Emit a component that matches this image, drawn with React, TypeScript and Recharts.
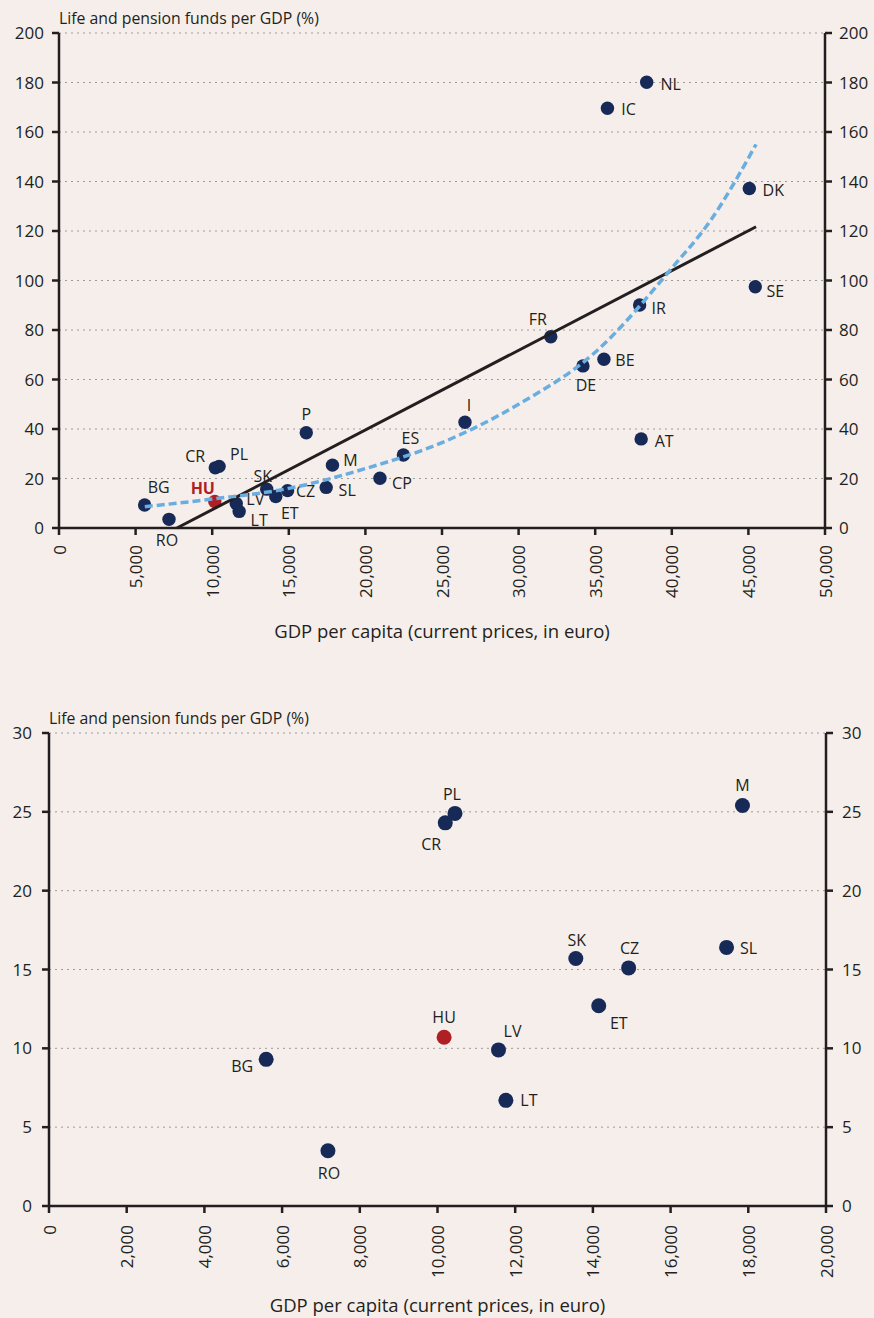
import React from 'react';
import { ScatterChart, Scatter, XAxis, YAxis, CartesianGrid, Label } from 'recharts';

// country codes and values
const countries = ['BG', 'RO', 'HU', 'CR', 'PL', 'LV', 'LT', 'SK', 'ET', 'CZ', 'SL', 'M', 'P', 'CP', 'ES', 'I', 'FR', 'DE', 'BE', 'AT', 'IR', 'IC', 'NL', 'DK', 'SE'];
const gdpPerCapita = [5590, 7180, 10170, 10200, 10450, 11570, 11760, 13560, 14150, 14920, 17440, 17850, 16140, 20950, 22480, 26500, 32100, 34200, 35570, 38000, 37900, 35800, 38360, 45060, 45450];
const fundsPerGdp = [9.3, 3.5, 10.7, 24.3, 24.9, 9.9, 6.7, 15.7, 12.7, 15.1, 16.4, 25.4, 38.5, 20.1, 29.5, 42.7, 77.3, 65.5, 68.2, 36.0, 90.1, 169.6, 180.1, 137.2, 97.5];

// trend lines drawn on the upper chart
const linearTrendGdp = [7700, 45500];
const linearTrendFunds = [0, 121.7];
const expTrendGdp = [5600, 10000, 15000, 20000, 25000, 30000, 35000, 40000, 42500, 45500];
const expTrendFunds = [8.6, 11.7, 16, 24, 34.5, 50, 71, 105, 124, 155];

const topXTicks = [0, 5000, 10000, 15000, 20000, 25000, 30000, 35000, 40000, 45000, 50000];
const topYTicks = [0, 20, 40, 60, 80, 100, 120, 140, 160, 180, 200];
const bottomXTicks = [0, 2000, 4000, 6000, 8000, 10000, 12000, 14000, 16000, 18000, 20000];
const bottomYTicks = [0, 5, 10, 15, 20, 25, 30];

const yTitle = 'Life and pension funds per GDP (%)';
const xTitle = 'GDP per capita (current prices, in euro)';

// label placement (dx, dy from dot centre)
const topLabelOffset: Record<string, [number, number]> = {
  BG: [14, -18], HU: [-12, -14], RO: [-2, 21], CR: [-20, -12], PL: [20, -12],
  SK: [-4, -13], LV: [19, -4], LT: [20, 9], ET: [14, 16], CZ: [18, 0],
  SL: [21, 3], M: [18, -5], P: [0, -19], ES: [7, -17], CP: [22, 5],
  I: [4, -17], AT: [23, 2], FR: [-13, -18], DE: [3, 19], BE: [21, 1],
  IR: [19, 3], SE: [20, 4], DK: [24, 2], IC: [21, 1], NL: [24, 2],
};
const bottomLabelOffset: Record<string, [number, number]> = {
  BG: [-24, 7], HU: [0, -20], LV: [14, -19], LT: [23, 0], RO: [1, 22],
  PL: [-3, -19], CR: [-14, 21], M: [0, -21], SK: [1, -18], CZ: [1, -20],
  SL: [22, 1], ET: [20, 17],
};

const BG_COLOR = '#f5eeeb';
const INK = '#231f20';
const NAVY = '#172a57';
const RED = '#b01f24';
const TREND_BLUE = '#6aaee0';
const GRID = '#9c9c9c';
const FONT = '"Open Sans", sans-serif';

const points = countries.map((name, i) => ({ name, x: gdpPerCapita[i], y: fundsPerGdp[i] }));
const smallPoints = points.filter((p) => p.x <= 20000 && p.y <= 30);
const linearTrend = linearTrendGdp.map((x, i) => ({ x, y: linearTrendFunds[i] }));
const expTrend = expTrendGdp.map((x, i) => ({ x, y: expTrendFunds[i] }));

const fmt = (v: number) => v.toLocaleString('en-US');

const noDot = () => <g />;

const makeDot = (offsets: Record<string, [number, number]>, r: number, redLabel: boolean) => (props: any) => {
  const { cx, cy, payload } = props;
  const isHu = payload.name === 'HU';
  const [dx, dy] = offsets[payload.name] ?? [16, 0];
  return (
    <g>
      <circle cx={cx} cy={cy} r={r} fill={isHu ? RED : NAVY} />
      <text
        x={cx + dx}
        y={cy + dy}
        textAnchor="middle"
        dominantBaseline="central"
        fontSize={16}
        fontFamily={FONT}
        fontWeight={isHu && redLabel ? 700 : 400}
        fill={isHu && redLabel ? RED : INK}
      >
        {payload.name}
      </text>
    </g>
  );
};

const rotatedTick = (gap: number) => (props: any) => {
  const { x, y, payload } = props;
  const ty = y + gap;
  return (
    <text
      x={x}
      y={ty}
      transform={`rotate(-90 ${x} ${ty})`}
      textAnchor="end"
      dominantBaseline="central"
      fontSize={17}
      fontFamily={FONT}
      fill={INK}
    >
      {fmt(payload.value)}
    </text>
  );
};

const axisStroke = { stroke: INK, strokeWidth: 2.5 };
const tickStyle = { fontSize: 17, fill: INK, fontFamily: FONT };

const TopChart = () => (
  <ScatterChart width={874} height={660} margin={{ top: 33, right: 0, bottom: 0, left: 0 }}>
    <CartesianGrid horizontal vertical={false} stroke={GRID} strokeDasharray="2 4" />
    <XAxis
      type="number"
      dataKey="x"
      domain={[0, 50000]}
      ticks={topXTicks}
      interval={0}
      height={132}
      axisLine={axisStroke}
      tickLine={axisStroke}
      tickSize={7}
      tick={rotatedTick(8)}
    >
      <Label value={xTitle} position="insideBottom" offset={22} fontSize={18.5} fill={INK} fontFamily={FONT} />
    </XAxis>
    <YAxis
      type="number"
      dataKey="y"
      domain={[0, 200]}
      ticks={topYTicks}
      interval={0}
      width={59}
      axisLine={axisStroke}
      tickLine={axisStroke}
      tickSize={7}
      tickMargin={8}
      tick={tickStyle}
    />
    <YAxis
      yAxisId="right"
      orientation="right"
      type="number"
      dataKey="y"
      domain={[0, 200]}
      ticks={topYTicks}
      interval={0}
      width={49}
      axisLine={axisStroke}
      tickLine={axisStroke}
      tickSize={7}
      tickMargin={7}
      tick={{ ...tickStyle, textAnchor: 'start' }}
    />
    <Scatter data={points} shape={makeDot(topLabelOffset, 6.7, true)} isAnimationActive={false} />
    <Scatter
      data={linearTrend}
      yAxisId="right"
      line={{ stroke: INK, strokeWidth: 3 }}
      shape={noDot}
      isAnimationActive={false}
    />
    <Scatter
      data={expTrend}
      line={{ stroke: TREND_BLUE, strokeWidth: 3.5, strokeDasharray: '8 4' }}
      lineJointType="monotoneX"
      shape={noDot}
      isAnimationActive={false}
    />
  </ScatterChart>
);

const BottomChart = () => (
  <ScatterChart width={874} height={658} margin={{ top: 73, right: 0, bottom: 0, left: 0 }}>
    <CartesianGrid horizontal vertical={false} stroke={GRID} strokeDasharray="2 4" />
    <XAxis
      type="number"
      dataKey="x"
      domain={[0, 20000]}
      ticks={bottomXTicks}
      interval={0}
      height={112}
      axisLine={axisStroke}
      tickLine={axisStroke}
      tickSize={7}
      tick={rotatedTick(10)}
    >
      <Label value={xTitle} position="insideBottom" offset={6} fontSize={18.5} fill={INK} fontFamily={FONT} />
    </XAxis>
    <YAxis
      type="number"
      dataKey="y"
      domain={[0, 30]}
      ticks={bottomYTicks}
      interval={0}
      width={49}
      axisLine={axisStroke}
      tickLine={axisStroke}
      tickSize={7}
      tickMargin={10}
      tick={tickStyle}
    />
    <YAxis
      yAxisId="right"
      orientation="right"
      type="number"
      dataKey="y"
      domain={[0, 30]}
      ticks={bottomYTicks}
      interval={0}
      width={48}
      axisLine={axisStroke}
      tickLine={axisStroke}
      tickSize={7}
      tickMargin={9}
      tick={{ ...tickStyle, textAnchor: 'start' }}
    />
    {/* invisible copy so the right axis has data to scale from */}
    <Scatter data={smallPoints} yAxisId="right" shape={noDot} isAnimationActive={false} />
    <Scatter data={smallPoints} shape={makeDot(bottomLabelOffset, 7.5, false)} isAnimationActive={false} />
  </ScatterChart>
);

const titleStyle: React.CSSProperties = {
  position: 'absolute',
  fontFamily: FONT,
  fontSize: 15.8,
  color: INK,
  whiteSpace: 'nowrap',
  lineHeight: '20px',
};

export default function App() {
  return (
    <div style={{ position: 'absolute', left: 0, top: 0, width: 874, height: 1318, background: BG_COLOR, overflow: 'hidden' }}>
      <div style={{ position: 'absolute', left: 0, top: 0 }}>
        <TopChart />
      </div>
      <div style={{ position: 'absolute', left: 0, top: 660 }}>
        <BottomChart />
      </div>
      <div style={{ ...titleStyle, left: 59, top: 8 }}>{yTitle}</div>
      <div style={{ ...titleStyle, left: 49, top: 708 }}>{yTitle}</div>
    </div>
  );
}
